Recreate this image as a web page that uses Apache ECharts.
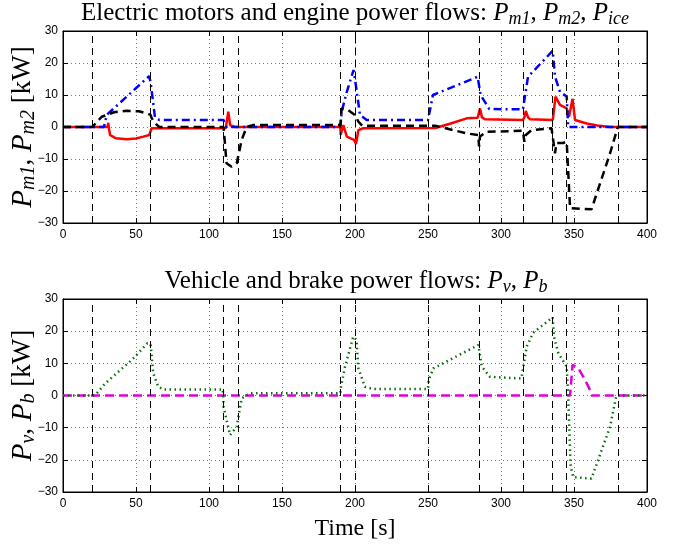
<!DOCTYPE html>
<html>
<head>
<meta charset="utf-8">
<script src="https://cdn.jsdelivr.net/npm/echarts@6/dist/echarts.min.js"></script>
<style>
  html, body { margin: 0; padding: 0; background: #fff; }
  #chart { width: 682px; height: 544px; }
</style>
</head>
<body>
<div id="chart"></div>
<script>
// time stamps (s) and power values (kW)
var tM1 = [0, 28, 30, 59, 60, 63, 66, 110, 112, 190, 191, 194.4, 199, 200, 203.4, 208, 250, 253.4, 284, 286, 292, 315, 318.5, 335.4, 337, 340.4, 345, 346, 400];
var pM1 = [0, 0, 3.8, 15.9, 14, 3, 2.2, 2.2, 0, 0, 5, 11, 17.8, 15, 3.8, 2.2, 2.2, 10, 15.7, 10, 5.6, 5.5, 15.7, 23.8, 15.7, 11, 9.5, 0, 0];

var tM2 = [0, 30.5, 31, 31.5, 32.2, 36, 43.6, 50, 55, 59.1, 60, 60.7, 65, 111.5, 113.2, 114.5, 118, 190, 190.2, 192, 194.4, 199.3, 200.3, 200.7, 202.3, 205.7, 255, 265, 276.5, 284, 285, 285.6, 287, 289, 315, 316, 317, 318.5, 320, 335.5, 336, 337.3, 340.4, 345, 346.6, 349, 350.7, 358.7, 366, 374.7, 400];
var pM2 = [0, 0, 1.3, -0.5, -2.5, -3.5, -3.85, -3.6, -3, -2.5, -2, -0.4, -0.4, -0.4, 4.8, 0.5, 0, 0, -2.5, 0.6, -3, -4, -4.3, -5.3, -1, -0.4, -0.3, 1, 2.7, 2.9, 3.2, 5.8, 3, 2.4, 2.2, 3, 5, 3, 2.4, 2.2, 2.4, 9.5, 6.9, 5.8, 3.2, 8.8, 2.2, 1.1, 0.5, 0, 0];

var tIce = [0, 20, 26.5, 35, 43.6, 52, 58.4, 60, 60.7, 63, 66, 110, 112, 115.5, 119, 122.4, 125.8, 130, 190, 190.9, 195.4, 200, 202.3, 205, 255, 276.5, 284.4, 285, 285.6, 290, 315, 316, 317, 320.9, 334.6, 335.5, 337, 338, 342.5, 345, 347.3, 362, 374.7, 380, 400];
var pIce = [0, 0, 3.2, 4.6, 5.1, 4.9, 4.1, 3.8, 2.8, 1.2, 0, 0, -11.3, -12.4, -11.3, -4, 0, 0.6, 0.6, 5.8, 5.3, 3.75, 1.7, 0.4, 0.4, -2, -2.5, -6.1, -3, -1.5, -1.2, -4.6, -2.5, -1, -0.4, -0.4, -8.2, -5, -5, -4.6, -25.4, -25.7, -8.2, 0, 0];

var tV = [0, 21.9, 29, 37.9, 47, 50.4, 57.7, 60, 61.8, 65.3, 68.7, 109.5, 110, 114.4, 119, 122.4, 128, 190, 190.2, 193.2, 198.8, 201, 202.3, 206.8, 212.5, 250, 250.5, 253.6, 284.5, 286.8, 292.5, 314, 317.6, 322, 335.4, 336.3, 339.3, 345, 346, 347.7, 349.5, 362, 374.7, 379, 400];
var pV = [0, 0, 3.8, 7.4, 11, 12.6, 16.2, 16, 6.9, 2.7, 1.9, 1.9, -3.5, -12.3, -9.7, -0.9, 0.7, 0.7, 2.2, 9, 18.3, 17.3, 8.4, 2.7, 2, 2, 4.8, 8.4, 15.7, 9, 5.8, 5.3, 15.2, 19.5, 24.3, 18.3, 13.1, 9, 0, -22.1, -25.4, -25.8, -9.7, 0, 0];

var tB = [0, 347.3, 349, 353, 356.4, 360.5, 362, 400];
var pB = [0, 0, 9.5, 8.4, 5.8, 2.2, 0, 0];

// mode switching instants (vertical dashed lines)
var switchTimes = [20, 60, 110, 120, 190, 200, 250, 285, 315, 335, 345, 380];

var xTicks = [0, 400, 50];
var yTicks = [-30, 30, 10];

function zip(t, v) {
  return t.map(function (x, i) { return [x, v[i]]; });
}

var serif = 'Liberation Serif';
var sans = 'Liberation Sans';

var richMath = {
  n: { fontFamily: serif, fontSize: 25, color: '#000', lineHeight: 30 },
  i: { fontFamily: serif, fontStyle: 'italic', fontSize: 25, color: '#000', lineHeight: 30 },
  s: { fontFamily: serif, fontStyle: 'italic', fontSize: 18, color: '#000', lineHeight: 10, verticalAlign: 'bottom' }
};
var richName = {
  n: { fontFamily: serif, fontSize: 27, color: '#000', lineHeight: 32 },
  i: { fontFamily: serif, fontStyle: 'italic', fontSize: 29, color: '#000', lineHeight: 32 },
  s: { fontFamily: serif, fontStyle: 'italic', fontSize: 20, color: '#000', lineHeight: 10, verticalAlign: 'bottom' }
};

function minus(v) { return String(v).replace('-', '\u2212'); }

function xAxisPair(grid, name) {
  var base = {
    type: 'value', gridIndex: grid, min: xTicks[0], max: xTicks[1], interval: xTicks[2],
    axisLine: { show: true, onZero: false, lineStyle: { color: '#000', width: 1 } },
    axisTick: { show: true, inside: true, length: 5, lineStyle: { color: '#000' } }
  };
  var bottom = Object.assign({}, base, {
    position: 'bottom',
    axisLabel: { color: '#000', fontFamily: sans, fontSize: 12, margin: 6 },
    splitLine: { show: true, lineStyle: { color: '#777', width: 1, type: [1, 3] } }
  });
  if (name) {
    bottom.name = name;
    bottom.nameLocation = 'middle';
    bottom.nameGap = 25;
    bottom.nameTextStyle = { fontFamily: serif, fontSize: 24, color: '#000' };
  }
  var top = Object.assign({}, base, {
    position: 'top', axisLabel: { show: false }, splitLine: { show: false }
  });
  return [bottom, top];
}

function yAxisPair(grid, name) {
  var base = {
    type: 'value', gridIndex: grid, min: yTicks[0], max: yTicks[1], interval: yTicks[2],
    axisLine: { show: true, onZero: false, lineStyle: { color: '#000', width: 1 } },
    axisTick: { show: true, inside: true, length: 5, lineStyle: { color: '#000' } }
  };
  var left = Object.assign({}, base, {
    position: 'left',
    name: name, nameLocation: 'middle', nameGap: 24, nameRotate: 90,
    nameMoveOverlap: false,
    nameTextStyle: { rich: richName },
    axisLabel: { color: '#000', fontFamily: sans, fontSize: 12, margin: 5, formatter: minus },
    splitLine: { show: true, lineStyle: { color: '#777', width: 1, type: [1, 3] } }
  });
  var right = Object.assign({}, base, {
    position: 'right', axisLabel: { show: false }, splitLine: { show: false }
  });
  return [left, right];
}

function switchLines() {
  return {
    silent: true, symbol: 'none', animation: false,
    label: { show: false },
    lineStyle: { color: '#000', width: 1, type: [7, 5] },
    data: switchTimes.map(function (x) { return { xAxis: x }; })
  };
}

function lineSeries(data, xi, yi, color, width, type) {
  return {
    type: 'line', data: data, xAxisIndex: xi, yAxisIndex: yi,
    showSymbol: false, symbol: 'none', animation: false,
    lineStyle: { color: color, width: width, type: type }
  };
}

var dom = document.getElementById('chart');
var myChart = echarts.init(dom, null, { renderer: 'canvas' });

var sM2 = lineSeries(zip(tM2, pM2), 0, 0, '#ff0000', 2.5, 'solid');
sM2.markLine = switchLines();
var sV = lineSeries(zip(tV, pV), 2, 2, '#0b6b0b', 2.5, [1.5, 3.5]);
sV.markLine = switchLines();

var option = {
  backgroundColor: '#fff',
  animation: false,
  grid: [
    { left: 63, right: 35, top: 31, height: 192, show: true, borderColor: '#000', borderWidth: 1, outerBoundsMode: 'none', containLabel: false },
    { left: 63, right: 35, top: 299, height: 193, show: true, borderColor: '#000', borderWidth: 1, outerBoundsMode: 'none', containLabel: false }
  ],
  xAxis: xAxisPair(0).concat(xAxisPair(1, 'Time [s]')),
  yAxis: yAxisPair(0, '{i|P}{s|m1}{n|, }{i|P}{s|m2}{n| [kW]}')
    .concat(yAxisPair(1, '{i|P}{s|v}{n|, }{i|P}{s|b}{n| [kW]}')),
  graphic: [
    {
      type: 'text', x: 355, y: 13, silent: true,
      style: {
        text: '{n|Electric motors and engine power flows: }{i|P}{s|m1}{n|, }{i|P}{s|m2}{n|, }{i|P}{s|ice}',
        rich: richMath, align: 'center', verticalAlign: 'middle'
      }
    },
    {
      type: 'text', x: 356, y: 281, silent: true,
      style: {
        text: '{n|Vehicle and brake power flows: }{i|P}{s|v}{n|, }{i|P}{s|b}',
        rich: richMath, align: 'center', verticalAlign: 'middle'
      }
    }
  ],
  series: [
    sM2,
    lineSeries(zip(tM1, pM1), 0, 0, '#0000ff', 2.5, [8, 4, 2, 4]),
    lineSeries(zip(tIce, pIce), 0, 0, '#000000', 2.5, [8, 5]),
    lineSeries(zip(tB, pB), 2, 2, '#dd00dd', 2.5, [9, 5]),
    sV
  ]
};

if (option && typeof option === 'object') {
  myChart.setOption(option, true);
}
</script>
</body>
</html>
